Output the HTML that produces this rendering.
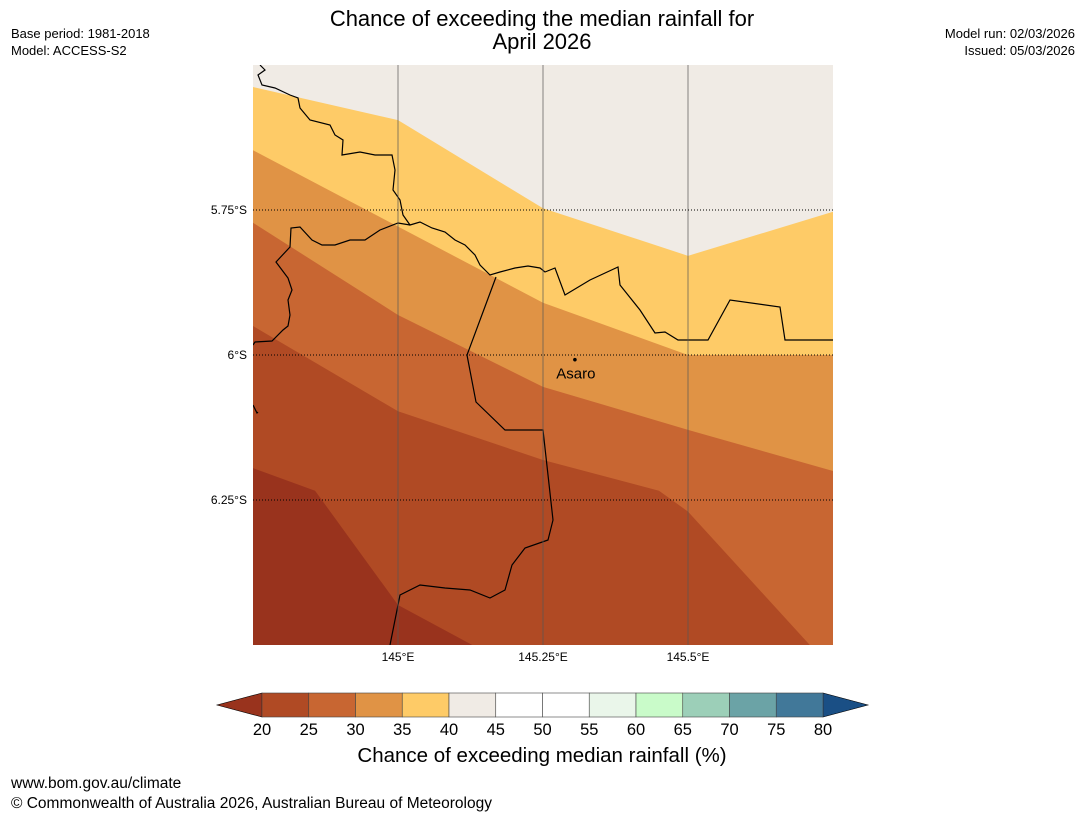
<!DOCTYPE html>
<html><head><meta charset="utf-8"><style>
body{margin:0;background:#fff;font-family:"Liberation Sans",sans-serif;}
svg{display:block}
</style></head><body>
<svg width="1085" height="816" viewBox="0 0 1085 816" xmlns="http://www.w3.org/2000/svg" font-family="Liberation Sans, sans-serif">
<text x="542" y="26" text-anchor="middle" font-size="22" fill="#000">Chance of exceeding the median rainfall for</text>
<text x="542" y="49" text-anchor="middle" font-size="22" fill="#000">April 2026</text>
<text x="11" y="38" font-size="13">Base period: 1981-2018</text>
<text x="11" y="55" font-size="13">Model: ACCESS-S2</text>
<text x="1075" y="38" font-size="13" text-anchor="end">Model run: 02/03/2026</text>
<text x="1075" y="55" font-size="13" text-anchor="end">Issued: 05/03/2026</text>
<defs><clipPath id="mc"><rect x="253" y="65" width="580" height="580"/></clipPath></defs>
<g id="map" clip-path="url(#mc)"></g>
<g id="cbar"></g>
<text x="542" y="762" text-anchor="middle" font-size="20.5">Chance of exceeding median rainfall (%)</text>
<text x="11" y="788" font-size="15.5">www.bom.gov.au/climate</text>
<text x="11" y="808" font-size="15.5">© Commonwealth of Australia 2026, Australian Bureau of Meteorology</text>
</svg>
<script>
const NS='http://www.w3.org/2000/svg';
// map extent
const lonMin=144.75, lonMax=145.75, latTop=-5.5, latBot=-6.5;
const X0=253,X1=833,Y0=65,Y1=645;
const xs=lon=>X0+(lon-lonMin)/(lonMax-lonMin)*(X1-X0);
const ys=lat=>Y0+(latTop-lat)/(latTop-latBot)*(Y1-Y0);
// contour boundaries [lon,lat]
const edge40=[[144.75,-5.538],[145.0,-5.595],[145.25,-5.747],[145.5,-5.829],[145.75,-5.753]];
const edge35=[[144.75,-5.647],[145.25,-5.910],[145.5,-6.0],[145.75,-6.0]];
const edge30=[[144.75,-5.772],[145.0,-5.931],[145.25,-6.055],[145.5,-6.129],[145.75,-6.2]];
const edge25=[[144.75,-5.95],[145.0,-6.097],[145.25,-6.181],[145.45,-6.234],[145.5,-6.27],[145.71,-6.5]];
const edge20=[[144.75,-6.195],[144.857,-6.234],[145.0,-6.431],[145.128,-6.5]];
const bandColors=['#fecb67','#e09345','#c86632','#b04a24','#99331d'];
const bandNames=['band-35-40','band-30-35','band-25-30','band-20-25','band-below-20'];
const edges=[edge40,edge35,edge30,edge25,edge20];
const lonTicks=[145.0,145.25,145.5];
const lonLabels=['145°E','145.25°E','145.5°E'];
const latTicks=[-5.75,-6.0,-6.25];
const latLabels=['5.75°S','6°S','6.25°S'];
const cbTicks=[20,25,30,35,40,45,50,55,60,65,70,75,80];
const cbColors=['#b04a24','#c86632','#e09345','#fecb67','#f0ebe5','#ffffff','#ffffff','#eaf6ea','#c9fbc9','#9ccfb8','#6ba3a6','#417899'];
const town={name:'Asaro',lon:145.305,lat:-6.008};

const map=document.getElementById('map');
const svg=document.querySelector('svg');
function mk(tag,attrs,parent){const e=document.createElementNS(NS,tag);for(const k in attrs)e.setAttribute(k,attrs[k]);parent.appendChild(e);return e;}
let bg=mk('rect',{x:X0,y:Y0,width:580,height:580,fill:'#f0ebe5'},map);


edges.forEach((ed,i)=>{
  const pts=ed.map(p=>xs(p[0])+','+ys(p[1]));
  pts.push(X1+','+Y1);pts.push(X0+','+Y1);
  const p=mk('polygon',{points:pts.join(' '),fill:bandColors[i]},map);
  
  
});
// borders
const b1=mk('path',{d:'M260,65 L265,70 258,75 262,85 275,88 290,95 298,98 300,108 310,120 330,125 335,135 343,140 342,155 360,152 375,155 392,155 395,170 393,190 400,200 403,215 410,225 420,222 432,228 445,232 455,240 465,245 475,255 480,265 490,275 500,272 515,268 528,266 540,268 545,272 555,268 565,295 590,280 618,267 620,285 628,295 640,310 655,333 665,332 678,340 708,340 730,300 780,307 785,340 833,340',fill:'none',stroke:'#000','stroke-width':1.2},map);


const b2=mk('path',{d:'M253,345 L255,342 272,341 283,330 288,326 290,315 288,300 292,290 288,278 276,262 290,247 291,228 300,227 312,240 322,245 335,245 350,240 365,240 380,230 398,223 410,225 M496,277 L467,355 476,402 505,430 543,430 553,520 548,540 525,548 512,565 505,590 490,598 470,590 445,588 420,585 400,595 390,645 M253,405 L257,413 258,412',fill:'none',stroke:'#000','stroke-width':1.2},map);


// gridlines
lonTicks.forEach((lo,i)=>{
  const l=mk('line',{x1:xs(lo),x2:xs(lo),y1:Y0,y2:Y1,stroke:'#555','stroke-opacity':0.7,'stroke-width':1},map);
  
  
  const t=mk('text',{x:xs(lo),y:661,'font-size':12,'text-anchor':'middle'},svg);
  t.textContent=lonLabels[i];
  
  
});
latTicks.forEach((la,i)=>{
  const l=mk('line',{x1:X0,x2:X1,y1:ys(la),y2:ys(la),stroke:'#000','stroke-width':1,'stroke-dasharray':'1,2'},map);
  
  
  const t=mk('text',{x:247,y:ys(la)+4,'font-size':12,'text-anchor':'end'},svg);
  t.textContent=latLabels[i];
  
  
});
const dot=mk('circle',{cx:xs(town.lon),cy:ys(town.lat),r:1.8,fill:'#000'},map);


const tl=mk('text',{x:xs(town.lon)+1,y:ys(town.lat)+19,'font-size':15,'text-anchor':'middle'},map);
tl.textContent=town.name;


// colorbar
const cb=document.getElementById('cbar');
const cx0=262,cx1=823,cy0=693,cy1=717,bw=(cx1-cx0)/cbColors.length;
const lt=mk('polygon',{points:`${cx0},${cy0} ${cx0},${cy1} 217,705`,fill:'#99331d',stroke:'#000','stroke-width':0.6},cb);


const rt=mk('polygon',{points:`${cx1},${cy0} ${cx1},${cy1} 868,705`,fill:'#1a4f85',stroke:'#000','stroke-width':0.6},cb);


cbColors.forEach((c,i)=>{
  const r=mk('rect',{x:cx0+i*bw,y:cy0,width:bw,height:cy1-cy0,fill:c,stroke:'#444','stroke-width':0.6},cb);
  
  
});
cbTicks.forEach((v,i)=>{
  const t=mk('text',{x:cx0+i*bw,y:735,'font-size':16.5,'text-anchor':'middle'},cb);
  t.textContent=v;
  
  
});
</script>
</body></html>
